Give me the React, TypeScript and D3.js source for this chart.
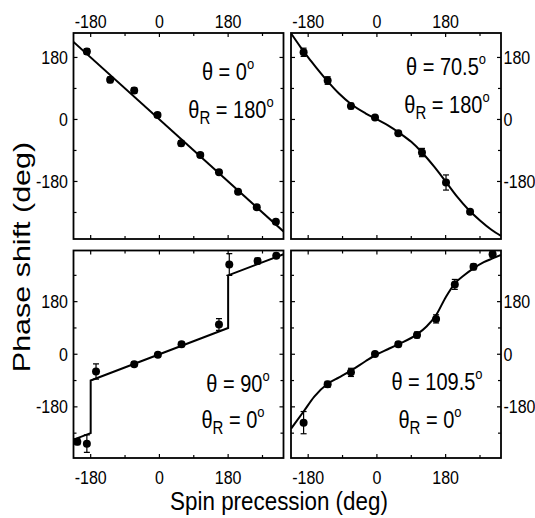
import React from 'react';
import * as d3 from 'd3';

// x ticks (spin precession, deg) and y ticks (phase shift, deg)
const xTicks = [-180, -90, 0, 90, 180, 270];
const xLabels = [-180, 0, 180];
const yTicksTop = [-270, -180, -90, 0, 90, 180];
const yTicksBottom = [-270, -180, -90, 0, 90, 180, 270];
const yLabels = [-180, 0, 180];

// theta = 0, thetaR = 180 (top left)
const tlPrec = [-190, -129, -66, -5, 57, 107, 156, 206, 255, 305];
const tlPhase = [197, 115, 84, 13, -69, -103, -153, -210, -255, -297];
const tlErr = [8, 8, 8, 6, 8, 6, 6, 6, 6, 6];
const tlFitPrec = [-225, 325];
const tlFitPhase = [225, -325];

// theta = 70.5, thetaR = 180 (top right)
const trPrec = [-192, -129, -68, -5, 56, 118, 181, 244];
const trPhase = [195, 113, 39, 6, -40, -96, -183, -268];
const trErr = [12, 11, 8, 5, 6, 12, 22, 6];
const trFitPrec = [-225, -200, -180, -160, -130, -100, -68, -30, 0, 30, 60, 90, 120, 150, 180, 210, 240, 270, 300, 325];
const trFitPhase = [250, 210, 180, 152, 112, 76, 45, 18, 0, -18, -40, -65, -98, -137, -180, -224, -262, -293, -320, -338];

// theta = 90, thetaR = 0 (bottom left)
const blPrec = [-215, -190, -166, -66, -4, 58, 156, 183, 257, 306];
const blPhase = [-299, -306, -59, -34, -2, 34, 102, 307, 319, 337];
const blErr = [10, 30, 26, 8, 6, 8, 20, 37, 10, 8];
const blFitPrec = [-225, -180, -180, 180, 180, 325];
const blFitPhase = [-292, -270, -90, 90, 270, 342];

// theta = 109.5, thetaR = 0 (bottom right)
const brPrec = [-192, -129, -68, -5, 56, 105, 155, 204, 253, 303];
const brPhase = [-234, -103, -62, 1, 34, 66, 121, 239, 299, 342];
const brErr = [38, 10, 14, 6, 8, 10, 14, 17, 10, 10];
const brFitPrec = [-225, -192, -164, -129, -99, -68, -30, 0, 30, 56, 105, 130, 155, 181, 204, 230, 253, 280, 303, 325];
const brFitPhase = [-255, -196, -145, -101, -79, -56, -24, 0, 18, 34, 68, 95, 134, 197, 242, 272, 294, 315, 328, 340];

const FONT = '"Liberation Sans", Arial, Helvetica, sans-serif';
const SY = 1.17; // glyphs in the figure are drawn a bit taller than wide

type Panel = {
  prec: number[];
  phase: number[];
  err: number[];
  fitPrec: number[];
  fitPhase: number[];
  smooth: boolean;
  left: number;
  top: number;
  bottom: number;
  yDomain: [number, number];
  yTicks: number[];
  labelsLeft: boolean;
  labelsTop: boolean;
  theta: string;
  thetaR: string;
  textX: [number, number];
  textY: [number, number];
};

const PW = 210;

const panels: Panel[] = [
  {
    prec: tlPrec, phase: tlPhase, err: tlErr, fitPrec: tlFitPrec, fitPhase: tlFitPhase, smooth: false,
    left: 73.5, top: 33, bottom: 239, yDomain: [-347, 251], yTicks: yTicksTop,
    labelsLeft: true, labelsTop: true, theta: '0', thetaR: '180', textX: [228, 231], textY: [80, 118],
  },
  {
    prec: trPrec, phase: trPhase, err: trErr, fitPrec: trFitPrec, fitPhase: trFitPhase, smooth: true,
    left: 291, top: 33, bottom: 239, yDomain: [-347, 251], yTicks: yTicksTop,
    labelsLeft: false, labelsTop: true, theta: '70.5', thetaR: '180', textX: [446, 447], textY: [75, 113],
  },
  {
    prec: blPrec, phase: blPhase, err: blErr, fitPrec: blFitPrec, fitPhase: blFitPhase, smooth: false,
    left: 73.5, top: 250.5, bottom: 458, yDomain: [-355, 355], yTicks: yTicksBottom,
    labelsLeft: true, labelsTop: false, theta: '90', thetaR: '0', textX: [238, 233], textY: [392, 428],
  },
  {
    prec: brPrec, phase: brPhase, err: brErr, fitPrec: brFitPrec, fitPhase: brFitPhase, smooth: true,
    left: 291, top: 250.5, bottom: 458, yDomain: [-355, 355], yTicks: yTicksBottom,
    labelsLeft: false, labelsTop: false, theta: '109.5', thetaR: '0', textX: [437, 430], textY: [390, 428],
  },
];

const PanelView = ({ p, i }: { p: Panel; i: number }) => {
  const x = d3.scaleLinear().domain([-225, 325]).range([p.left, p.left + PW]);
  const y = d3.scaleLinear().domain(p.yDomain).range([p.bottom, p.top]);
  const line = d3
    .line<number>()
    .x((_, k) => x(p.fitPrec[k]))
    .y((d) => y(d))
    .curve(p.smooth ? d3.curveMonotoneX : d3.curveLinear);
  const clipId = `clip${i}`;
  const right = p.left + PW;
  const tick = (v: number) => (v % 180 === 0 ? 4 : 3);

  return (
    <g>
      <defs>
        <clipPath id={clipId}>
          <rect x={p.left} y={p.top} width={PW} height={p.bottom - p.top} />
        </clipPath>
      </defs>

      {/* ticks on all four sides, pointing inward */}
      {xTicks.map((v) => (
        <g key={'x' + v} stroke="#000" strokeWidth={1.2}>
          <line x1={x(v)} x2={x(v)} y1={p.top} y2={p.top + tick(v)} />
          <line x1={x(v)} x2={x(v)} y1={p.bottom} y2={p.bottom - tick(v)} />
        </g>
      ))}
      {p.yTicks.map((v) => (
        <g key={'y' + v} stroke="#000" strokeWidth={1.2}>
          <line x1={p.left} x2={p.left + tick(v)} y1={y(v)} y2={y(v)} />
          <line x1={right} x2={right - tick(v)} y1={y(v)} y2={y(v)} />
        </g>
      ))}

      {xLabels.map((v) => (
        <text
          key={'xl' + v}
          transform={`translate(${x(v)},${p.labelsTop ? 28 : 483.5}) scale(1,${SY})`}
          textAnchor="middle"
          fontSize={16}
          fontFamily={FONT}
        >
          {v}
        </text>
      ))}
      {yLabels.map((v) => (
        <text
          key={'yl' + v}
          transform={`translate(${p.labelsLeft ? p.left - 5.5 : right + 2.5},${y(v) + 6.5}) scale(1,${SY})`}
          textAnchor={p.labelsLeft ? 'end' : 'start'}
          fontSize={16}
          fontFamily={FONT}
        >
          {v}
        </text>
      ))}

      <g clipPath={`url(#${clipId})`}>
        <path d={line(p.fitPhase) ?? ''} fill="none" stroke="#000" strokeWidth={2} />
        {p.prec.map((v, k) => {
          const cx = x(v);
          const lo = y(p.phase[k] - p.err[k]);
          const hi = y(p.phase[k] + p.err[k]);
          return (
            <g key={'pt' + k} stroke="#000" strokeWidth={1.2}>
              <line x1={cx} x2={cx} y1={lo} y2={hi} />
              <line x1={cx - 3} x2={cx + 3} y1={lo} y2={lo} />
              <line x1={cx - 3} x2={cx + 3} y1={hi} y2={hi} />
              <circle cx={cx} cy={y(p.phase[k])} r={4} fill="#000" stroke="none" />
            </g>
          );
        })}
      </g>

      <rect x={p.left} y={p.top} width={PW} height={p.bottom - p.top} fill="none" stroke="#000" strokeWidth={1.8} />

      <text
        transform={`translate(${p.textX[0]},${p.textY[0]}) scale(1,${SY})`}
        textAnchor="middle"
        fontSize={20}
        fontFamily={FONT}
      >
        {'θ = ' + p.theta}
        <tspan dy={-9} fontSize={13}>o</tspan>
      </text>
      <text
        transform={`translate(${p.textX[1]},${p.textY[1]}) scale(1,${SY})`}
        textAnchor="middle"
        fontSize={20}
        fontFamily={FONT}
      >
        θ
        <tspan dy={5} fontSize={15}>R</tspan>
        <tspan dy={-5}>{' = ' + p.thetaR}</tspan>
        <tspan dy={-9} fontSize={13}>o</tspan>
      </text>
    </g>
  );
};

export default function App() {
  return (
    <svg
      width={535}
      height={518}
      style={{ position: 'absolute', left: 0, top: 0, background: '#fff' }}
    >
      <rect width={535} height={518} fill="#fff" />
      {panels.map((p, i) => (
        <PanelView key={i} p={p} i={i} />
      ))}
      <text
        transform={`translate(279,509.5) scale(1,1.15)`}
        textAnchor="middle"
        fontSize={22.4}
        fontFamily={FONT}
      >
        Spin precession (deg)
      </text>
      <text
        transform={`translate(30,257) rotate(-90) scale(1.27,1)`}
        textAnchor="middle"
        fontSize={24}
        fontFamily={FONT}
      >
        Phase shift (deg)
      </text>
    </svg>
  );
}
